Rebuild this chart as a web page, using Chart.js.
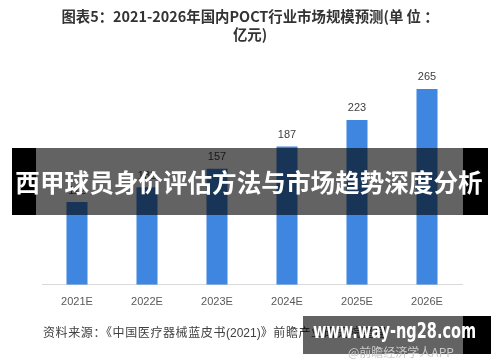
<!DOCTYPE html>
<html>
<head>
<meta charset="utf-8">
<script src="https://cdn.jsdelivr.net/npm/chart.js@4.4.1/dist/chart.umd.min.js"></script>
<style>
    body { margin: 0; background: #fff; font-family: "Noto Sans CJK SC", "Noto Sans", sans-serif; }
    #wrap { position: relative; width: 500px; height: 362px; overflow: hidden; }
    #chartBox { position: absolute; left: 0; top: 0; width: 500px; height: 362px; }
    .abs { position: absolute; }
    #title { left: 0; width: 500px; top: 7px; text-align: center; font-weight: bold; font-size: 14.4px; line-height: 18px; color: #333; }
    #source { left: 43px; top: 323px; font-size: 12px; color: #404040; letter-spacing: 0.6px; white-space: nowrap; }
    #source .num { font-family: "Liberation Sans", sans-serif; letter-spacing: 0; }
    .band-black { background: #000; }
    .band-gray { background: rgba(0, 0, 0, 0.61); }
    #bandText { left: 0; width: 498px; top: 148px; height: 67px; line-height: 67px; text-align: center; color: #fff; font-weight: bold; font-size: 24.6px; white-space: nowrap; }
    #siteText { left: 313px; top: 319px; color: #fff; font-weight: bold; font-size: 21px; font-family: "DejaVu Sans", sans-serif; white-space: nowrap; transform-origin: 0 0; }
    #appText { left: 348px; top: 343px; font-size: 12px; color: #c8c8c8; white-space: nowrap; }
</style>
</head>
<body>
<div id="wrap">
    <div id="chartBox"><canvas id="marketChart"></canvas></div>
    <div id="title" class="abs">图表5：2021-2026年国内POCT行业市场规模预测(单 位 ：<br>亿元)</div>
    <div id="source" class="abs">资料来源：《中国医疗器械蓝皮书<span class="num">(2021)</span>》前瞻产业研究院整理</div>

    <!-- overlay band across the middle -->
    <div class="abs band-black" style="left:12px; top:148px; width:24px; height:67px;"></div>
    <div class="abs band-gray" style="left:36px; top:148px; width:427px; height:67px;"></div>
    <div class="abs band-black" style="left:463px; top:148px; width:25px; height:67px;"></div>
    <div id="bandText" class="abs">西甲球员身价评估方法与市场趋势深度分析</div>

    <!-- site box bottom right -->
    <div class="abs band-gray" style="left:303px; top:316px; width:160px; height:38px;"></div>
    <div class="abs band-black" style="left:463px; top:316px; width:28px; height:38px;"></div>
    <div id="appText" class="abs">@前瞻经济学人APP</div>
    <div id="siteText" class="abs">www.way-ng28.com</div>
</div>
<script>
    const years = ['2021E', '2022E', '2023E', '2024E', '2025E', '2026E'];
    const marketSize = [112, 132, 157, 187, 223, 265];

    // squeeze the site text into its box
    const site = document.getElementById('siteText');
    site.style.transform = 'scaleX(' + (163 / site.offsetWidth) + ')';

    // value labels above each bar
    const barLabels = {
        id: 'barLabels',
        afterDatasetsDraw(chart) {
            const ctx = chart.ctx;
            const meta = chart.getDatasetMeta(0);
            ctx.save();
            ctx.fillStyle = '#404040';
            ctx.font = '11px "Liberation Sans", sans-serif';
            ctx.textAlign = 'center';
            ctx.textBaseline = 'bottom';
            meta.data.forEach((bar, i) => {
                ctx.fillText(marketSize[i], bar.x, bar.y - 6);
            });
            ctx.restore();
        }
    };

    const ctx = document.getElementById('marketChart').getContext('2d');
    const marketChart = new Chart(ctx, {
        type: 'bar',
        data: {
            labels: years,
            datasets: [{
                data: marketSize,
                backgroundColor: '#3f86e0',
                categoryPercentage: 1,
                barPercentage: 0.3
            }]
        },
        options: {
            responsive: true,
            maintainAspectRatio: false,
            animation: false,
            layout: { padding: { left: 42, right: 38, top: 63, bottom: 50 } },
            plugins: {
                legend: { display: false },
                tooltip: { enabled: false }
            },
            scales: {
                x: {
                    grid: { display: false },
                    border: { color: '#d9d9d9' },
                    ticks: {
                        color: '#595959',
                        padding: 3,
                        font: { size: 11, family: '"Liberation Sans", sans-serif' }
                    }
                },
                y: {
                    display: false,
                    min: 0,
                    max: 300
                }
            }
        },
        plugins: [barLabels]
    });
</script>
</body>
</html>
